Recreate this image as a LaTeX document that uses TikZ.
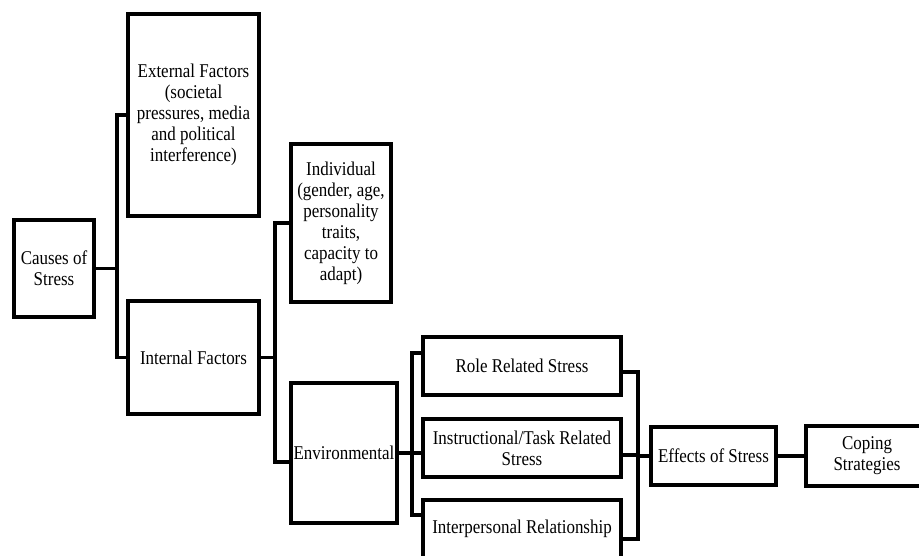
\documentclass[tikz,border=0pt]{standalone}
\usepackage{fontspec}
\setmainfont{Liberation Serif}[FakeStretch=0.87]
\usepackage{tikz}
\usetikzlibrary{calc}
\tikzstyle{box} = [draw, line width=3.3pt, align=center, inner sep=0pt,
	font=\fontsize{19.5pt}{21pt}\selectfont]
\tikzstyle{link} = [line width=3.3pt]

\begin{document}
\begin{tikzpicture}[x=1pt,y=-1pt]
   \useasboundingbox (0,0) rectangle (919,556);
   \clip (0,0) rectangle (919,556);
   \fill[white] (0,0) rectangle (919,556);

   \node[box, minimum width=80, minimum height=97] (cause) at (54,268.5) {Causes of\\Stress};
   \node[box, minimum width=131, minimum height=202] (ext) at (193.5,115) {External Factors\\(societal\\pressures, media\\and political\\interference)};
   \node[box, minimum width=131, minimum height=113] (int) at (193.5,357.5) {Internal Factors};
   \node[box, minimum width=100, minimum height=158] (indiv) at (341,223) {Individual\\(gender, age,\\personality\\traits,\\capacity to\\adapt)};
   \node[box, minimum width=106, minimum height=140] (env) at (344,453) {Environmental};
   \node[box, minimum width=198, minimum height=58] (role) at (522,366) {Role Related Stress};
   \node[box, minimum width=198, minimum height=58] (instr) at (522,448) {Instructional/Task Related\\Stress};
   \node[box, minimum width=198, minimum height=58] (interp) at (522,529) {Interpersonal Relationship};
   \node[box, minimum width=125, minimum height=58] (effects) at (713.5,456) {Effects of Stress};
   \node[box, minimum width=122, minimum height=60] (coping) at (867,456) {Coping\\Strategies};

   \coordinate (j1) at (117,268.5);
   \coordinate (j2) at (275,357.5);
   \coordinate (j3) at (412,453);
   \coordinate (j4) at (638,456);

   \draw[link] (cause.east) -- (j1);
   \draw[link] (ext.west) -| (j1);
   \draw[link] (int.west) -| (j1);

   \draw[link] (int.east) -- (j2);
   \draw[link] (indiv.west) -| (j2);
   \draw[link] ([yshift=-9pt]env.west) -| (j2);

   \draw[link] (env.east) -- (j3);
   \draw[link] ([yshift=13pt]role.west) -| (j3);
   \draw[link] ([yshift=-5pt]instr.west) -| (j3);
   \draw[link] ([yshift=14pt]interp.west) -| (j3);

   \draw[link] ([yshift=-6pt]role.east) -| (j4);
   \draw[link] ([yshift=-7pt]instr.east) -| (j4);
   \draw[link] ([yshift=-10pt]interp.east) -| (j4);
   \draw[link] (j4) -- (effects.west);
   \draw[link] (effects.east) -- (coping.west);
\end{tikzpicture}
\end{document}
